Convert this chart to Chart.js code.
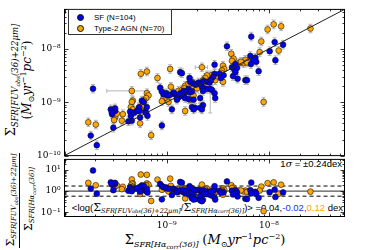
<!DOCTYPE html>
<html>
<head>
<meta charset="utf-8">
<script src="https://cdn.jsdelivr.net/npm/chart.js@4.4.1/dist/chart.umd.min.js"></script>
<style>
  body { margin: 0; background: #fff; }
  #wrap { position: relative; width: 373px; height: 250px; overflow: hidden; font-family: "Liberation Sans", Arial, sans-serif; }
  canvas { position: absolute; left: 0; z-index: 2; }
  .lbl { position: absolute; white-space: nowrap; z-index: 1; color: #000; line-height: 1; }
  .rot { transform: translate(-50%, -50%) rotate(-90deg); }
  .cen { transform: translate(-50%, -50%); }
  .m { font-family: "DejaVu Serif", serif; }
  .i { font-family: "DejaVu Serif", serif; font-style: italic; }
  .sub { font-family: "DejaVu Serif", serif; font-style: italic; position: relative; }
  #legend { position: absolute; left: 68px; top: 9px; width: 102px; height: 24px; border: 1px solid #333; background: #fff; z-index: 3; font-size: 8px; }
  #legend .row { position: absolute; left: 8px; white-space: nowrap; }
  #legend .dot { display: inline-block; width: 5px; height: 5px; border-radius: 50%; border: 0.6px solid #111; margin-right: 10px; vertical-align: -0.5px; }
</style>
</head>
<body>
<div id="wrap">
  <canvas id="topChart" width="373" height="165" style="top:0"></canvas>
  <canvas id="ratioChart" width="373" height="100" style="top:150px"></canvas>

  <div id="legend">
    <div class="row" style="top:3px"><span class="dot" style="background:#0000ee"></span>SF (N=104)</div>
    <div class="row" style="top:14px"><span class="dot" style="background:#ffa500"></span>Type-2 AGN (N=70)</div>
  </div>

  <!-- y title, top panel -->
  <div class="lbl rot" style="left:10px; top:80px; font-size:13px;"><span class="m">Σ</span><span class="sub" style="font-size:8.5px; top:3px;">SFR[FUV<span style="font-size:6px; position:relative; top:2px;">obs</span>(36)+22μm]</span></div>
  <div class="lbl rot" style="left:27px; top:80px; font-size:12px;"><span class="m">(</span><span class="i">M</span><span class="m" style="font-size:8px; position:relative; top:3px;">⊙</span><span class="i">yr</span><span class="m" style="font-size:8px; position:relative; top:-5px;">−1</span><span class="i">pc</span><span class="m" style="font-size:8px; position:relative; top:-5px;">−2</span><span class="m">)</span></div>

  <!-- y title, ratio panel -->
  <div class="lbl rot" style="left:10px; top:200px; font-size:11px;"><span class="m">Σ</span><span class="sub" style="font-size:7px; top:2px;">SFR[FUV<span style="font-size:5px; position:relative; top:2px;">obs</span>(36)+22μm]</span></div>
  <div style="position:absolute; left:19px; top:153px; width:1px; height:95px; background:#000;"></div>
  <div class="lbl rot" style="left:28px; top:199px; font-size:11px;"><span class="m">Σ</span><span class="sub" style="font-size:7px; top:2px;">SFR[Hα<span style="font-size:5px; position:relative; top:2px;">corr</span>(36)]</span></div>

  <!-- x title -->
  <div class="lbl cen" style="left:205px; top:239px; font-size:13px;"><span class="m">Σ</span><span class="sub" style="font-size:8px; top:3px;">SFR[Hα<span style="font-size:6px; position:relative; top:2px;">corr</span>(36)]</span>&nbsp;<span class="m">(</span><span class="i">M</span><span class="m" style="font-size:8px; position:relative; top:3px;">⊙</span><span class="i">yr</span><span class="m" style="font-size:8px; position:relative; top:-5px;">−1</span><span class="i">pc</span><span class="m" style="font-size:8px; position:relative; top:-5px;">−2</span><span class="m">)</span></div>

  <!-- annotations in ratio panel -->
  <div class="lbl" style="right:31px; top:159px; font-size:9.5px;">1<span class="i">σ</span> = ±0.24dex</div>
  <div class="lbl" style="right:30px; top:202px; font-size:9.5px;">&lt;log(<span class="m" style="font-size:11px">Σ</span><span class="sub" style="font-size:6.5px; top:2px;">SFR[FUV<span style="font-size:5px">obs</span>(36)+22μm]</span>/<span class="m" style="font-size:11px">Σ</span><span class="sub" style="font-size:6.5px; top:2px;">SFR[Hα<span style="font-size:5px">corr</span>(36)]</span>)&gt; =0.04,<span style="color:#2a2aff">-0.02,</span><span style="color:#ffa500">0.12</span> dex</div>
</div>

<script>
// axis ranges
const axisRange = [1e-10, 5.5e-8];
const ratioRange = [0.063, 31.6];

// labelled ticks
const xMajorTicks = [1e-9, 1e-8];
const yMajorTicks = [1e-10, 1e-9, 1e-8];
const ratioMajorTicks = [0.1, 1, 10];

// scatter of the 1 sigma band and one-to-one line
const sigmaDex = 0.24;
const oneToOne = [1e-10, 5.5e-8];
const errDex = 0.08;

// SF galaxies: log10 Sigma_SFR from Halpha (x) and FUV+22um (y)
const sfLogHa = [-9.721, -9.743, -9.684, -9.522, -9.047, -9.547, -9.505, -9.534, -9.505, -9.537,
  -9.375, -9.358, -9.351, -9.319, -9.341, -9.267, -9.243, -9.227, -9.270, -9.292,
  -9.211, -9.201, -9.188, -9.194, -9.260, -9.064, -9.047, -9.031, -9.005, -8.992,
  -8.966, -8.933, -8.917, -8.900, -8.884, -8.900, -8.949, -8.868, -8.835, -8.786,
  -8.868, -8.851, -8.835, -8.819, -8.786, -8.737, -8.809, -8.776, -8.753, -8.776,
  -8.770, -8.737, -8.711, -8.688, -8.665, -8.639, -8.606, -8.580, -8.655, -8.632,
  -8.606, -8.574, -8.557, -8.645, -8.531, -8.525, -8.672, -8.753, -8.721, -8.737,
  -8.645, -8.672, -8.655, -8.531, -8.547, -8.567, -8.482, -8.443, -8.469, -8.531,
  -8.328, -8.361, -8.338, -8.312, -8.328, -8.351, -8.306, -8.230, -8.214, -8.181,
  -8.132, -8.155, -8.123, -8.175, -8.100, -7.936, -8.172, -7.943, -7.861, -8.410, -7.992];
const sfLogFuv = [-8.745, -9.624, -9.805, -9.478, -9.436, -9.133, -9.164, -9.224, -9.115, -9.195,
  -9.358, -9.176, -9.255, -9.195, -9.345, -9.164, -8.969, -8.995, -9.091, -9.164,
  -9.176, -9.195, -9.255, -9.091, -9.285, -8.727, -8.800, -8.849, -8.831, -8.873,
  -8.860, -8.818, -8.849, -8.891, -8.909, -8.951, -9.133, -8.836, -8.787, -8.751,
  -8.436, -8.455, -8.891, -8.922, -8.940, -8.951, -8.800, -8.813, -8.800, -8.545,
  -8.618, -8.649, -8.667, -8.631, -8.649, -8.605, -8.618, -8.631, -8.709, -8.740,
  -8.751, -8.751, -8.769, -8.787, -8.831, -8.922, -8.922, -9.091, -9.104, -9.133,
  -9.055, -9.104, -9.133, -8.467, -8.527, -8.587, -8.467, -8.496, -8.545, -8.296,
  -8.285, -8.345, -8.376, -8.358, -8.436, -8.509, -8.558, -8.587, -8.587, -8.133,
  -8.164, -8.205, -8.242, -8.285, -8.418, -8.213, -7.769, -7.873, -7.922, -7.951, -8.042];

// Type-2 AGN
const agnLogHa = [-9.253, -9.194, -9.090, -8.966, -9.341, -9.194, -9.178, -9.201, -9.221, -9.227,
  -9.240, -9.267, -9.331, -9.341, -9.351, -9.331, -9.522, -9.505, -9.515, -9.488,
  -9.429, -9.439, -9.260, -9.767, -9.694, -9.152, -9.031, -8.998, -8.959, -8.884,
  -8.851, -8.819, -9.047, -8.982, -7.953, -8.012, -7.880, -7.593, -8.074, -7.904,
  -8.090, -8.368, -8.345, -8.361, -8.230, -8.247, -8.214, -8.296, -8.273, -8.655,
  -8.449, -8.436, -8.459, -8.466, -8.449, -8.525, -8.508, -8.567, -8.606, -8.623,
  -8.645, -8.819, -8.828, -8.786, -8.753, -8.737, -8.704, -8.770, -8.737, -8.051, -8.819];
const agnLogFuv = [-8.467, -8.424, -8.545, -8.376, -8.787, -8.831, -8.873, -8.922, -8.969, -9.013,
  -9.073, -9.104, -8.969, -8.995, -9.091, -9.133, -9.151, -9.285, -9.333, -9.213,
  -9.224, -9.345, -9.395, -9.376, -9.418, -9.618, -8.933, -8.922, -8.709, -8.787,
  -8.769, -8.800, -8.982, -8.995, -7.540, -7.636, -7.576, -7.618, -7.860, -8.031,
  -8.060, -8.091, -8.182, -8.224, -8.205, -8.267, -8.255, -8.267, -8.242, -8.345,
  -8.315, -8.376, -8.405, -8.449, -8.618, -8.587, -8.509, -8.496, -8.496, -8.545,
  -8.587, -8.691, -8.740, -8.649, -8.618, -8.727, -8.740, -8.951, -8.873, -8.995, -9.164];

// the few long error bars: [logX, logY, low, high]
const wideXErr = [[-9.341, -8.787, -9.586, -9.188], [-8.655, -8.345, -8.721, -8.600]];
const wideYErr = [[-8.574, -8.751, -9.200, -8.530]];

const sfColor = "#0000ee";
const agnColor = "#ffa500";

function toPoints(logX, logY) {
  return logX.map((v, i) => ({ x: 10 ** v, y: 10 ** logY[i] }));
}

function toRatioPoints(logX, logY) {
  return logX.map((v, i) => ({ x: 10 ** v, y: 10 ** (logY[i] - v) }));
}

const SUP = { "-": "⁻", "0": "⁰", "1": "¹", "2": "²", "3": "³", "4": "⁴", "5": "⁵", "6": "⁶", "7": "⁷", "8": "⁸", "9": "⁹" };
function powerLabel(v) {
  const e = Math.round(Math.log10(v));
  return "10" + String(e).split("").map((c) => SUP[c]).join("");
}

function logTicks(range) {
  const out = [];
  const lo = Math.floor(Math.log10(range[0]));
  const hi = Math.ceil(Math.log10(range[1]));
  for (let d = lo; d <= hi; d++) {
    for (let k = 1; k < 10; k++) {
      const v = k * Math.pow(10, d);
      if (v >= range[0] * 0.999 && v <= range[1] * 1.001) out.push({ v, major: k === 1 });
    }
  }
  return out;
}

// matplotlib style frame with inward ticks on every side
const frameAndTicks = {
  id: "frameAndTicks",
  afterDatasetsDraw(chart, args, opts) {
    const { ctx, chartArea: a } = chart;
    const sx = chart.scales.x;
    const sy = chart.scales.y;
    ctx.save();
    ctx.strokeStyle = "#000";
    ctx.lineWidth = 0.8;
    ctx.beginPath();
    logTicks(opts.xRange).forEach((t) => {
      const len = t.major ? 4 : 2;
      const px = Math.round(sx.getPixelForValue(t.v)) + 0.5;
      ctx.moveTo(px, a.bottom); ctx.lineTo(px, a.bottom - len);
      ctx.moveTo(px, a.top); ctx.lineTo(px, a.top + len);
    });
    logTicks(opts.yRange).forEach((t) => {
      const len = t.major ? 4 : 2;
      const py = Math.round(sy.getPixelForValue(t.v)) + 0.5;
      ctx.moveTo(a.left, py); ctx.lineTo(a.left + len, py);
      ctx.moveTo(a.right, py); ctx.lineTo(a.right - len, py);
    });
    ctx.stroke();
    ctx.lineWidth = 1;
    ctx.strokeRect(a.left, a.top, a.right - a.left, a.bottom - a.top);
    ctx.restore();
  },
};

// grey error bars under the markers of the top panel
const errorBars = {
  id: "errorBars",
  beforeDatasetsDraw(chart) {
    const { ctx, chartArea: a } = chart;
    const sx = chart.scales.x;
    const sy = chart.scales.y;
    ctx.save();
    ctx.beginPath();
    ctx.rect(a.left, a.top, a.right - a.left, a.bottom - a.top);
    ctx.clip();
    ctx.strokeStyle = "#b4b4b4";
    ctx.lineWidth = 1;
    ctx.beginPath();
    const vbar = (lx, lo, hi) => {
      const px = sx.getPixelForValue(10 ** lx);
      const y0 = sy.getPixelForValue(10 ** lo);
      const y1 = sy.getPixelForValue(10 ** hi);
      ctx.moveTo(px, y0); ctx.lineTo(px, y1);
      ctx.moveTo(px - 2, y0); ctx.lineTo(px + 2, y0);
      ctx.moveTo(px - 2, y1); ctx.lineTo(px + 2, y1);
    };
    const hbar = (ly, lo, hi) => {
      const py = sy.getPixelForValue(10 ** ly);
      const x0 = sx.getPixelForValue(10 ** lo);
      const x1 = sx.getPixelForValue(10 ** hi);
      ctx.moveTo(x0, py); ctx.lineTo(x1, py);
      ctx.moveTo(x0, py - 2); ctx.lineTo(x0, py + 2);
      ctx.moveTo(x1, py - 2); ctx.lineTo(x1, py + 2);
    };
    [[sfLogHa, sfLogFuv], [agnLogHa, agnLogFuv]].forEach(([lx, ly]) => {
      lx.forEach((v, i) => vbar(v, ly[i] - errDex, ly[i] + errDex));
    });
    wideXErr.forEach((e) => hbar(e[1], e[2], e[3]));
    wideYErr.forEach((e) => vbar(e[0], e[2], e[3]));
    ctx.stroke();
    ctx.restore();
  },
};

const tickFont = { family: "DejaVu Serif", size: 9 };

function logAxis(range, majors, width) {
  return {
    type: "logarithmic",
    min: range[0],
    max: range[1],
    afterFit: (s) => { s.width = width; },
    afterBuildTicks: (s) => { s.ticks = majors.map((v) => ({ value: v })); },
    ticks: { callback: powerLabel, font: tickFont, color: "#000", padding: 4, autoSkip: false },
    grid: { display: false, drawTicks: false },
    border: { display: false },
  };
}

function markerSet(label, data, color, order) {
  return {
    label,
    data,
    backgroundColor: color,
    borderColor: "#111",
    borderWidth: 0.6,
    pointRadius: 2.9,
    order,
  };
}

new Chart(document.getElementById("topChart"), {
  type: "scatter",
  data: {
    datasets: [
      {
        type: "line",
        data: oneToOne.map((v) => ({ x: v, y: v })),
        borderColor: "#222",
        borderWidth: 1,
        pointRadius: 0,
        order: 0,
      },
      markerSet("SF (N=104)", toPoints(sfLogHa, sfLogFuv), sfColor, 1),
      markerSet("Type-2 AGN (N=70)", toPoints(agnLogHa, agnLogFuv), agnColor, 2),
    ],
  },
  options: {
    responsive: false,
    animation: false,
    layout: { padding: { left: 0, top: 5.5, right: 28.5, bottom: 8.5 } },
    plugins: {
      legend: { display: false },
      tooltip: { enabled: false },
      frameAndTicks: { xRange: axisRange, yRange: axisRange },
    },
    scales: {
      x: { type: "logarithmic", min: axisRange[0], max: axisRange[1], display: false },
      y: logAxis(axisRange, yMajorTicks, 64.5),
    },
  },
  plugins: [errorBars, frameAndTicks],
});

const refLine = (level, dash, color, width) => ({
  type: "line",
  data: [{ x: axisRange[0], y: level }, { x: axisRange[1], y: level }],
  borderColor: color,
  borderWidth: width,
  borderDash: dash,
  pointRadius: 0,
  order: 3,
});

new Chart(document.getElementById("ratioChart"), {
  type: "scatter",
  data: {
    datasets: [
      refLine(1, [], "#555", 1.2),
      refLine(10 ** sigmaDex, [4, 3], "#000", 1),
      refLine(10 ** -sigmaDex, [4, 3], "#000", 1),
      markerSet("SF", toRatioPoints(sfLogHa, sfLogFuv), sfColor, 1),
      markerSet("AGN", toRatioPoints(agnLogHa, agnLogFuv), agnColor, 2),
    ],
  },
  options: {
    responsive: false,
    animation: false,
    layout: { padding: { left: 0, top: 7.5, right: 28.5, bottom: 0 } },
    plugins: {
      legend: { display: false },
      tooltip: { enabled: false },
      frameAndTicks: { xRange: axisRange, yRange: ratioRange },
    },
    scales: {
      x: {
        type: "logarithmic",
        min: axisRange[0],
        max: axisRange[1],
        afterFit: (s) => { s.height = 33.5; },
        afterBuildTicks: (s) => { s.ticks = xMajorTicks.map((v) => ({ value: v })); },
        ticks: { callback: powerLabel, font: tickFont, color: "#000", padding: 4, autoSkip: false, maxRotation: 0 },
        grid: { display: false, drawTicks: false },
        border: { display: false },
      },
      y: logAxis(ratioRange, ratioMajorTicks, 64.5),
    },
  },
  plugins: [frameAndTicks],
});
</script>
</body>
</html>
